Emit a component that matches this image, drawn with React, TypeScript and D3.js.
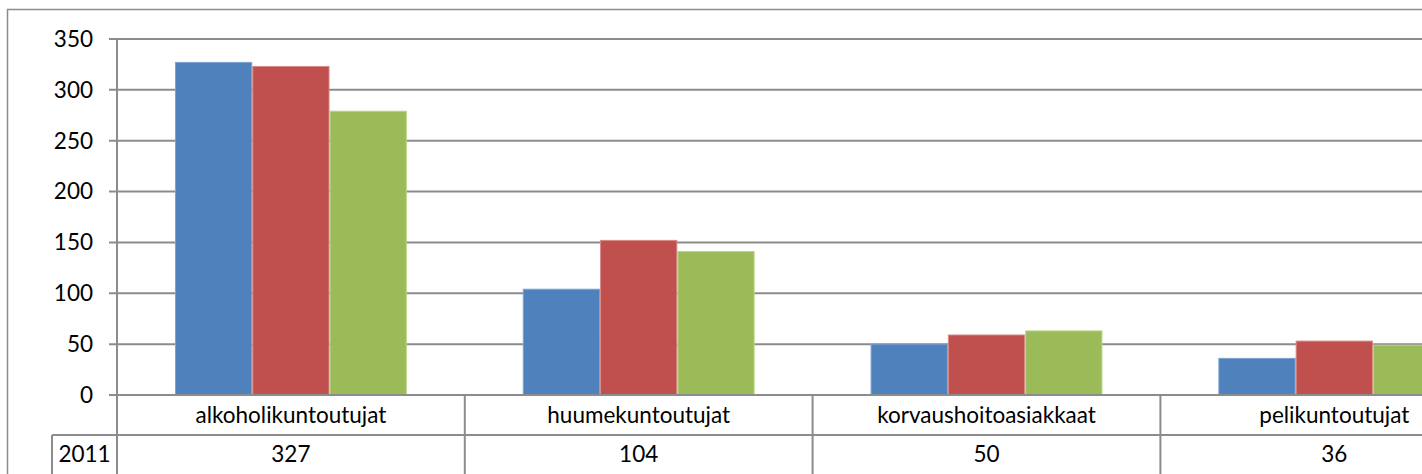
import React from 'react';
import * as d3 from 'd3';

// categories and series
const categories = ['alkoholikuntoutujat', 'huumekuntoutujat', 'korvaushoitoasiakkaat', 'pelikuntoutujat'];
const seriesNames = ['2011', '2012', '2013'];
const values2011 = [327, 104, 50, 36];
const values2012 = [323, 152, 59, 53];
const values2013 = [279, 141, 63, 49];
const yTicks = [0, 50, 100, 150, 200, 250, 300, 350];

const seriesValues = [values2011, values2012, values2013];
const colors = ['#4F81BD', '#C0504D', '#9BBB59'];
const edges = ['#7FA2D3', '#D98A88', '#BAD38A'];

const W = 1422;
const H = 474;
const plotLeft = 117;
const plotTop = 39;
const plotBottom = 395;
const catW = 347.8;
const rowH = 40;
const headerLeft = 52;
const fs = 22.5;
const font = 'Lato, "Open Sans", sans-serif';
const grid = '#8C8C8C';

export default function App() {
  const x = d3.scaleBand<string>()
    .domain(categories)
    .range([plotLeft, plotLeft + catW * categories.length]);

  // gap width 150% -> 0.75 bar on each side
  const barW = x.bandwidth() / (seriesNames.length + 1.5);
  const inner = d3.scaleBand<string>()
    .domain(seriesNames)
    .range([barW * 0.75, x.bandwidth() - barW * 0.75]);

  const y = d3.scaleLinear().domain([0, 350]).range([plotBottom, plotTop]);
  const right = x.range()[1];

  // only the table rows that fit in the frame (the rest is cropped in the original)
  const rows = seriesNames.map((s, si) => ({ s, si, top: plotBottom + rowH * (si + 1) }))
    .filter(r => r.top < H - 20);

  return (
    <svg width={W} height={H} style={{ position: 'absolute', left: 0, top: 0, background: '#fff' }}
      fontFamily={font}>
      {/* chart border */}
      <rect x={7.5} y={9.5} width={right + 40} height={H} fill="none" stroke={grid} strokeWidth={1.5} />

      {/* gridlines + y ticks */}
      {yTicks.map(t => (
        <g key={t}>
          <line x1={plotLeft - 8} x2={right} y1={y(t)} y2={y(t)} stroke={grid} strokeWidth={2} />
          <text x={93} y={y(t)} dy="0.35em" textAnchor="end" fontSize={fs} fill="#000">{t}</text>
        </g>
      ))}

      {/* bars */}
      {categories.map((c, ci) => (
        <g key={c} transform={`translate(${x(c)},0)`}>
          {seriesNames.map((s, si) => {
            const v = seriesValues[si][ci];
            return (
              <rect key={s} x={inner(s)! + 0.5} y={y(v)} width={inner.bandwidth() - 1}
                height={plotBottom - y(v)} fill={colors[si]} stroke={edges[si]} strokeWidth={1} />
            );
          })}
        </g>
      ))}

      {/* axis line */}
      <line x1={plotLeft} x2={plotLeft} y1={plotTop} y2={H} stroke={grid} strokeWidth={2} />
      <line x1={plotLeft - 8} x2={right} y1={plotBottom} y2={plotBottom} stroke={grid} strokeWidth={2} />

      {/* data table */}
      {categories.map(c => (
        <g key={c}>
          <line x1={x(c)! + catW} x2={x(c)! + catW} y1={plotBottom} y2={H} stroke={grid} strokeWidth={2} />
          <text x={x(c)! + catW / 2} y={plotBottom + rowH / 2} dy="0.35em" textAnchor="middle" fontSize={fs}>{c}</text>
        </g>
      ))}
      {rows.map(({ s, si, top }) => (
        <g key={s}>
          <line x1={headerLeft} x2={right} y1={top} y2={top} stroke={grid} strokeWidth={2} />
          <line x1={headerLeft} x2={headerLeft} y1={top} y2={top + rowH} stroke={grid} strokeWidth={2} />
          <text x={(headerLeft + plotLeft) / 2} y={top + rowH / 2} dy="0.33em" textAnchor="middle" fontSize={fs}>{s}</text>
          {categories.map((c, ci) => (
            <text key={c} x={x(c)! + catW / 2} y={top + rowH / 2} dy="0.33em" textAnchor="middle" fontSize={fs}>
              {seriesValues[si][ci]}
            </text>
          ))}
        </g>
      ))}
    </svg>
  );
}
